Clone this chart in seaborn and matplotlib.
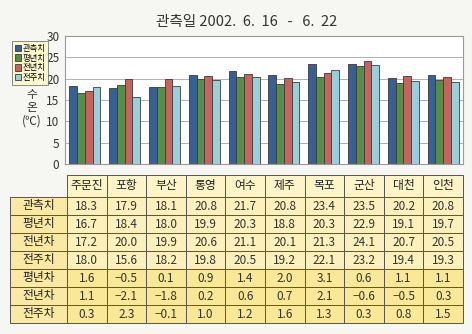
import matplotlib
matplotlib.use("Agg")
import matplotlib.pyplot as plt
from matplotlib.patches import Rectangle
import seaborn as sns
import pandas as pd

stations = ["주문진", "포항", "부산", "통영", "여수", "제주", "목포", "군산", "대천", "인천"]
series_names = ["관측치", "평년치", "전년치", "전주치"]
observed = [18.3, 17.9, 18.1, 20.8, 21.7, 20.8, 23.4, 23.5, 20.2, 20.8]
normal = [16.7, 18.4, 18.0, 19.9, 20.3, 18.8, 20.3, 22.9, 19.1, 19.7]
last_year = [17.2, 20.0, 19.9, 20.6, 21.1, 20.1, 21.3, 24.1, 20.7, 20.5]
last_week = [18.0, 15.6, 18.2, 19.8, 20.5, 19.2, 22.1, 23.2, 19.4, 19.3]
diff_normal = [1.6, -0.5, 0.1, 0.9, 1.4, 2.0, 3.1, 0.6, 1.1, 1.1]
diff_last_year = [1.1, -2.1, -1.8, 0.2, 0.6, 0.7, 2.1, -0.6, -0.5, 0.3]
diff_last_week = [0.3, 2.3, -0.1, 1.0, 1.2, 1.6, 1.3, 0.3, 0.8, 1.5]
table_row_labels = ["관측치", "평년치", "전년차", "전주치", "평년차", "전년차", "전주차"]
title_text = "관측일 2002.  6.  16   -   6.  22"
colors = ["#2a5ca6", "#4e9a3c", "#d8534b", "#8dd6e6"]

rows = []
for name, vals in zip(series_names, [observed, normal, last_year, last_week]):
    for st, v in zip(stations, vals):
        rows.append({"station": st, "series": name, "value": v})
df = pd.DataFrame(rows)

plt.rcParams["font.family"] = ["Noto Sans CJK KR", "DejaVu Sans"]
W, H = 472, 334
fig = plt.figure(figsize=(W / 100, H / 100), dpi=100)
fig.patch.set_facecolor("#f6f6f3")

ax = fig.add_axes([65 / W, 1 - 164 / H, (463 - 65) / W, (164 - 36) / H])
ax.set_facecolor("white")
sns.barplot(data=df, x="station", y="value", hue="series", palette=colors,
            width=0.78, edgecolor="#3a3a3a", linewidth=0.6, ax=ax, legend=True)
ax.set_ylim(0, 30)
ax.set_yticks(range(0, 31, 5))
ax.set_xlim(-0.5, len(stations) - 0.5)
ax.yaxis.grid(True, color="#b0b0b0", linewidth=0.7)
ax.set_axisbelow(True)
ax.set_xticks([])
ax.set_xlabel("")
ax.set_ylabel("")
ax.tick_params(axis="y", length=0, labelsize=8.5, colors="#333333", pad=4)
for s in ax.spines.values():
    s.set_color("#9a9a9a")
    s.set_linewidth(0.8)

leg = ax.legend(loc="upper left", bbox_to_anchor=(8 / W, 1 - 37 / H),
                bbox_transform=fig.transFigure, fontsize=6, handlelength=0.8,
                handleheight=0.8, handletextpad=0.2, labelspacing=0.1,
                borderpad=0.3, frameon=True, fancybox=False)
leg.get_frame().set_facecolor("#fff8c8")
leg.get_frame().set_edgecolor("#555555")
leg.get_frame().set_linewidth(0.6)

fig.text(32 / W, 1 - 108 / H, "수\n온\n(℃)", ha="center", va="center",
         fontsize=8.5, color="#333333", linespacing=1.05)
fig.text(247 / W, 1 - 22 / H, title_text, ha="center", va="center",
         fontsize=10.5, color="#333333")

# table
tax = fig.add_axes([0, 0, 1, 1])
tax.set_xlim(0, W)
tax.set_ylim(H, 0)
tax.axis("off")
label_x0, label_x1 = 10, 67
col_w = (463 - 67) / len(stations)
header_y0, header_y1 = 175, 197
row_h = 18.0
values_table = [observed, normal, last_year, last_week,
                diff_normal, diff_last_year, diff_last_week]
edge = "#555555"
for j, st in enumerate(stations):
    x0 = label_x1 + j * col_w
    tax.add_patch(Rectangle((x0, header_y0), col_w, header_y1 - header_y0,
                            facecolor="#fdf4c8", edgecolor=edge, linewidth=0.7))
    tax.text(x0 + col_w / 2, (header_y0 + header_y1) / 2, st, ha="center",
             va="center", fontsize=8.5, color="#222222")
for i, (lab, vals) in enumerate(zip(table_row_labels, values_table)):
    y0 = header_y1 + i * row_h
    fc_lab = "#f9e9a4"
    fc = "#fcf0bd" if i < 4 else "#f9e898"
    tax.add_patch(Rectangle((label_x0, y0), label_x1 - label_x0, row_h,
                            facecolor=fc_lab, edgecolor=edge, linewidth=0.7))
    tax.text((label_x0 + label_x1) / 2, y0 + row_h / 2, lab, ha="center",
             va="center", fontsize=8.5, color="#222222")
    for j, v in enumerate(vals):
        x0 = label_x1 + j * col_w
        tax.add_patch(Rectangle((x0, y0), col_w, row_h, facecolor=fc,
                                edgecolor=edge, linewidth=0.7))
        txt = f"{v:.1f}".replace("-", "−")
        tax.text(x0 + col_w / 2, y0 + row_h / 2, txt, ha="center",
                 va="center", fontsize=8.5, color="#333333")

fig.savefig("out.png", dpi=100, facecolor=fig.get_facecolor())
